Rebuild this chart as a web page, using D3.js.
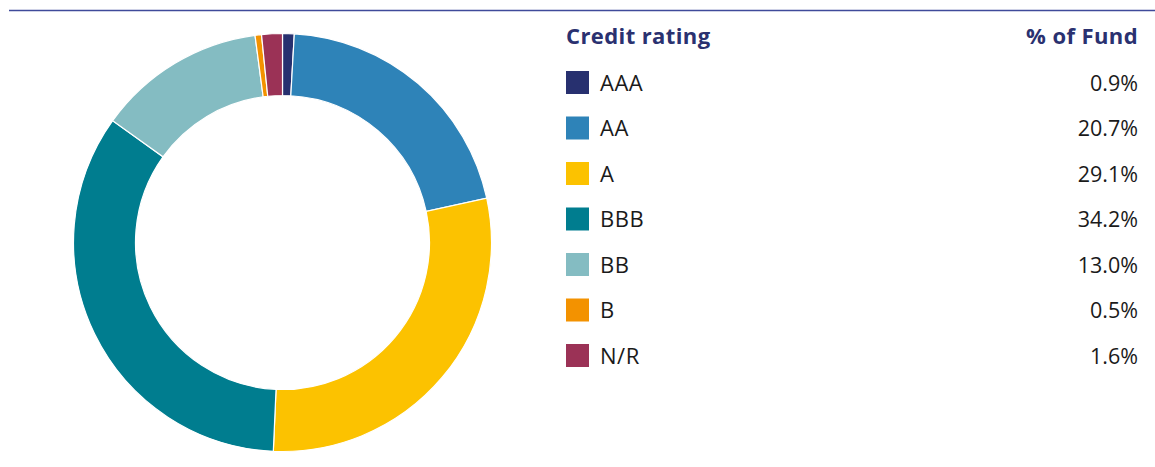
<!DOCTYPE html>
<html>
<head>
<meta charset="utf-8">
<script src="https://cdn.jsdelivr.net/npm/d3@7"></script>
<style>
  body { margin: 0; background: #fff; }
  svg { display: block; }
</style>
</head>
<body>
<script>
// dados do gráfico
const ratings = ["AAA", "AA", "A", "BBB", "BB", "B", "N/R"];
const shares = [0.9, 20.7, 29.1, 34.2, 13.0, 0.5, 1.6];
const colors = ["#27306f", "#2e83b8", "#fcc200", "#007d8f", "#84bcc2", "#f39200", "#9b3256"];

const width = 1155, height = 467;

const svg = d3.select("body").append("svg")
  .attr("width", width)
  .attr("height", height);

// linha no topo
svg.append("line")
  .attr("x1", 9).attr("x2", width)
  .attr("y1", 10.5).attr("y2", 10.5)
  .attr("stroke", "#3f4a9a")
  .attr("stroke-width", 1.5);

const data = ratings.map((r, i) => ({ rating: r, value: shares[i], color: colors[i] }));

const pie = d3.pie().sort(null).value(d => d.value);
const arc = d3.arc().innerRadius(147).outerRadius(209);

const g = svg.append("g").attr("transform", "translate(282.5,242.5)");

g.selectAll("path")
  .data(pie(data))
  .join("path")
  .attr("d", arc)
  .attr("fill", d => d.data.color)
  .attr("stroke", "#fff")
  .attr("stroke-width", 1.2);

// legenda
const font = "'Open Sans', sans-serif";
const y0 = 82.5, rowH = 45.5;
const xSw = 566, xTxt = 600, xRight = 1138;

svg.append("text")
  .attr("x", xSw).attr("y", 44)
  .attr("font-family", font).attr("font-weight", 700)
  .attr("font-size", 22).attr("fill", "#2a3170")
  .attr("letter-spacing", 0.4)
  .text("Credit rating");

svg.append("text")
  .attr("x", xRight).attr("y", 44)
  .attr("text-anchor", "end")
  .attr("font-family", font).attr("font-weight", 700)
  .attr("font-size", 22).attr("fill", "#2a3170")
  .attr("letter-spacing", 0.4)
  .text("% of Fund");

const rows = svg.selectAll("g.row")
  .data(data)
  .join("g")
  .attr("class", "row")
  .attr("transform", (d, i) => `translate(0,${y0 + i * rowH})`);

rows.append("rect")
  .attr("x", xSw).attr("y", -11.5)
  .attr("width", 23).attr("height", 23)
  .attr("fill", d => d.color);

rows.append("text")
  .attr("x", xTxt).attr("y", 8)
  .attr("font-family", font).attr("font-size", 22)
  .attr("letter-spacing", 0.5)
  .attr("fill", "#1a1a1a")
  .text(d => d.rating);

rows.append("text")
  .attr("x", xRight).attr("y", 8)
  .attr("text-anchor", "end")
  .attr("font-family", font).attr("font-size", 21.5)
  .attr("fill", "#1a1a1a")
  .text(d => d.value.toFixed(1) + "%");
</script>
</body>
</html>
